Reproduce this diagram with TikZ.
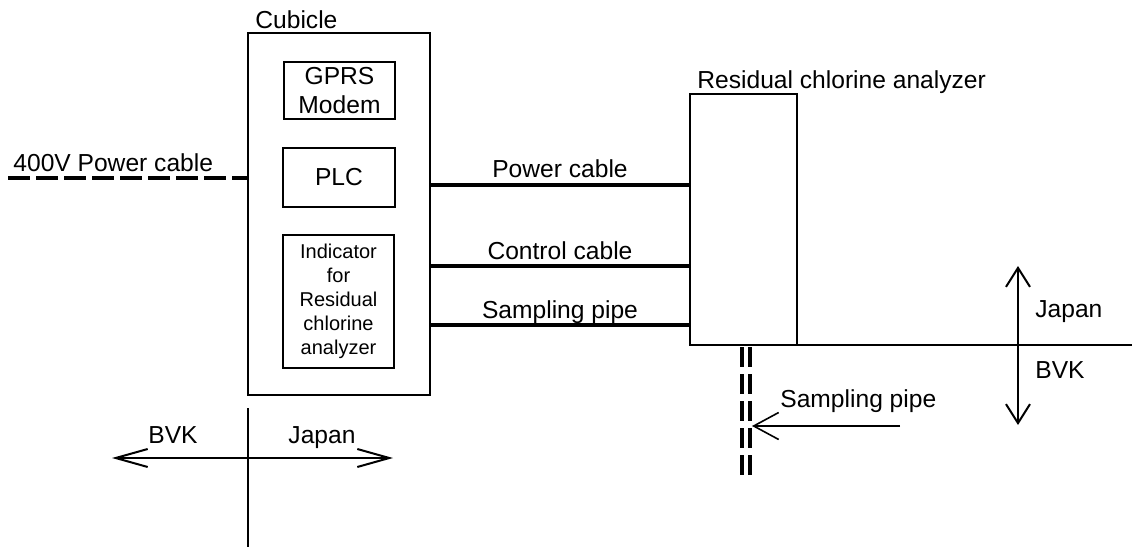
\documentclass[tikz,border=0pt]{standalone}
\usepackage{fontspec}
\setmainfont{Liberation Sans}
\usetikzlibrary{arrows.meta,positioning,calc}

\begin{document}
\begin{tikzpicture}[x=0.5pt,y=-0.5pt,
    lbl/.style={font=\fontsize{12.3}{14.5}\selectfont, inner sep=0pt},
    box/.style={draw, line width=1pt, outer sep=0pt, inner sep=0pt, align=center},
    cable/.style={line width=2pt},
    feeder/.style={line width=2pt, dash pattern=on 11pt off 3pt},
    pipe/.style={line width=2pt, dash pattern=on 10pt off 3.5pt},
    wide barb/.style={line width=1pt, {Straight Barb[length=16pt,width=9pt]}-{Straight Barb[length=16pt,width=9pt]}},
    tall barb/.style={line width=1pt, {Straight Barb[length=9.5pt,width=12pt]}-{Straight Barb[length=9.5pt,width=12pt]}}]
    \useasboundingbox (0,0) rectangle (1132,547);

    % Cubicle with its three units
    \node[box, minimum width=91pt, minimum height=181pt] (cubicle) at (339,214) {};
    \node[lbl, anchor=base west] (cublbl) at (255,28) {Cubicle};
    \node[box, lbl, minimum width=55.5pt, minimum height=28.5pt] (gprs) at (339.5,90.5) {GPRS\\Modem};
    \node[box, lbl, minimum width=56pt, minimum height=29.5pt] (plc) at (339,177.5) {PLC};
    \node[box, minimum width=55.5pt, minimum height=66.5pt, font=\fontsize{10}{12}\selectfont] (ind) at (338.5,301.5)
        {Indicator\\for\\Residual\\chlorine\\analyzer};

    % Analyzer
    \node[box, minimum width=53.5pt, minimum height=125.5pt] (analyzer) at (743.5,219.5) {};
    \node[lbl, anchor=base west] (anlbl) at (697,88) {Residual chlorine analyzer};

    % 400V feeder
    \coordinate (feed) at (8,178);
    \draw[feeder] (feed) -- (cubicle.west |- feed);
    \node[lbl, anchor=base west] (feedlbl) at (13,171) {400V Power cable};

    % Cables between cubicle and analyzer
    \draw[cable] (cubicle.east |- 0,185) -- (analyzer.west |- 0,185)
        node[lbl, midway, anchor=base, yshift=4pt] (pwrlbl) {Power cable};
    \draw[cable] (cubicle.east |- 0,266) -- (analyzer.west |- 0,266)
        node[lbl, midway, anchor=base, yshift=3.5pt] (ctllbl) {Control cable};
    \draw[cable] (cubicle.east |- 0,325) -- (analyzer.west |- 0,325)
        node[lbl, midway, anchor=base, yshift=3.5pt] (smplbl) {Sampling pipe};

    % Boundary under the cubicle
    \coordinate (bndtop) at (248,408);
    \coordinate (bndbot) at (248,547);
    \coordinate (bndw) at (112,458);
    \coordinate (bnde) at (393,458);
    \draw[line width=1pt] (bndtop) -- (bndbot);
    \draw[wide barb] (bndw) -- (bnde);
    \node[lbl, anchor=base] (bvkw) at (173,443) {BVK};
    \node[lbl, anchor=base] (jpw) at (322,443) {Japan};

    % Boundary on the right
    \coordinate (rend) at (1132,345);
    \draw[line width=1pt] (analyzer.south east) -- (rend);
    \coordinate (bndn) at (1018,266);
    \coordinate (bnds) at (1018,425);
    \draw[tall barb] (bndn) -- (bnds);
    \node[lbl, anchor=base west] (jpe) at (1035,317) {Japan};
    \node[lbl, anchor=base west] (bvke) at (1035,378) {BVK};

    % Sampling pipe
    \coordinate (pipetop) at (746,347);
    \coordinate (pipebot) at (746,478);
    \draw[pipe] ([xshift=-2pt]pipetop) -- ([xshift=-2pt]pipebot);
    \draw[pipe] ([xshift=2pt]pipetop) -- ([xshift=2pt]pipebot);
    \coordinate (sampfrom) at (900,426);
    \draw[line width=0.8pt, -{Straight Barb[length=12.5pt,width=13.5pt]}] (sampfrom) -- ([xshift=3pt]pipebot |- sampfrom);
    \node[lbl, anchor=base west] (samplbl) at (780,407) {Sampling pipe};
\end{tikzpicture}
\end{document}
